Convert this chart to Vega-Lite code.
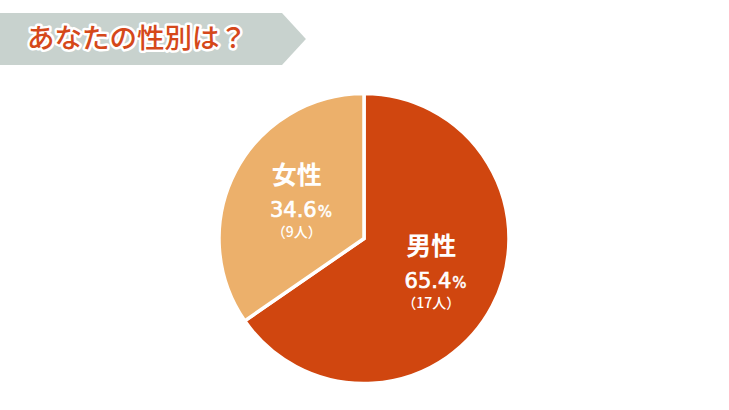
{
  "$schema": "https://vega.github.io/schema/vega-lite/v6.json",
  "background": "white",
  "padding": {"left": 0, "top": 13, "right": 0, "bottom": 0},
  "spacing": 20,
  "config": {
    "view": {"stroke": null},
    "text": {"font": "Noto Sans CJK JP"}
  },
  "datasets": {
    "banner": [{"title": "あなたの性別は？"}],
    "gender": [
      {"gender": "男性", "count": 17, "pct": "65.4", "people": "（17人）"},
      {"gender": "女性", "count": 9, "pct": "34.6", "people": "（9人）"}
    ]
  },
  "vconcat": [
    {
      "width": 282,
      "height": 52,
      "view": {"fill": "#C8D2CE", "stroke": null},
      "data": {"name": "banner"},
      "layer": [
        {
          "mark": {"type": "point", "shape": "M0,-1L0.92,0L0,1Z", "size": 2704, "filled": true, "fill": "#C8D2CE", "opacity": 1, "strokeWidth": 0},
          "encoding": {"x": {"value": "width"}}
        },
        {
          "mark": {"type": "text", "fontSize": 27.5, "fontWeight": 500, "stroke": "white", "strokeWidth": 5, "strokeJoin": "round", "fill": "white", "dx": -4, "dy": 1, "baseline": "middle"},
          "encoding": {"text": {"field": "title"}}
        },
        {
          "mark": {"type": "text", "fontSize": 27.5, "fontWeight": 500, "color": "#D5481A", "dx": -4, "dy": 1, "baseline": "middle"},
          "encoding": {"text": {"field": "title"}}
        }
      ]
    },
    {
      "width": 728,
      "height": 307,
      "data": {"name": "gender"},
      "encoding": {
        "theta": {"field": "count", "type": "quantitative", "stack": true},
        "order": {"field": "count", "sort": "descending"},
        "detail": {"field": "gender"}
      },
      "layer": [
        {
          "mark": {"type": "arc", "outerRadius": 145, "stroke": "white", "strokeWidth": 3.5},
          "encoding": {
            "color": {
              "field": "gender",
              "scale": {"domain": ["男性", "女性"], "range": ["#D0460F", "#ECB06B"]},
              "legend": null
            }
          }
        },
        {
          "mark": {"type": "text", "radius": 76, "fontSize": 25, "fontWeight": "bold", "color": "white", "baseline": "middle", "dy": -27},
          "encoding": {"text": {"field": "gender"}}
        },
        {
          "mark": {"type": "text", "radius": 76, "font": "DejaVu Sans", "fontSize": 21, "color": "white", "stroke": "white", "strokeWidth": 0.7, "align": "right", "baseline": "alphabetic", "dx": 20, "dy": 14},
          "encoding": {"text": {"field": "pct"}}
        },
        {
          "mark": {"type": "text", "radius": 76, "font": "DejaVu Sans", "fontSize": 15, "color": "white", "stroke": "white", "strokeWidth": 0.5, "align": "left", "baseline": "alphabetic", "dx": 21, "dy": 14},
          "encoding": {"text": {"value": "%"}}
        },
        {
          "mark": {"type": "text", "radius": 76, "fontSize": 14, "fontWeight": 500, "color": "white", "baseline": "middle", "dy": 30},
          "encoding": {"text": {"field": "people"}}
        }
      ]
    }
  ]
}
